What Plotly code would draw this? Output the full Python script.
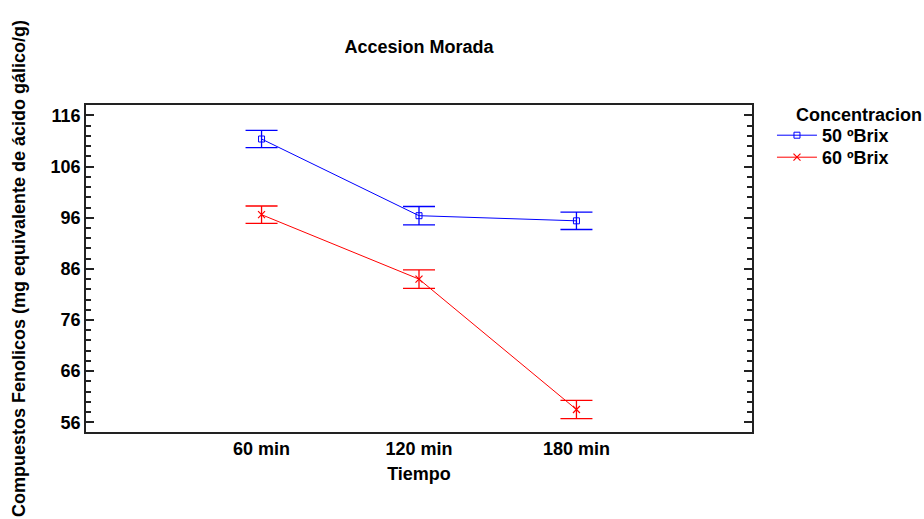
import plotly.graph_objects as go

# Mean phenolic content per drying time, with interval half-widths
tiempos = ["60 min", "120 min", "180 min"]
posiciones = [1, 2, 3]

brix50_media = [111.4, 96.4, 95.4]
brix50_error = [1.7, 1.8, 1.7]

brix60_media = [96.6, 84.0, 58.5]
brix60_error = [1.7, 1.8, 1.8]

y_ticks = [56, 66, 76, 86, 96, 106, 116]

FONT = "Liberation Sans, Arial, sans-serif"
FS = 18
AZUL = "#0000FF"
ROJO = "#FF0000"

# plot area spans 105..432 px vertically
PLOT_TOP, PLOT_H = 105, 327


def paper_y(px):
    return 1 - (px - PLOT_TOP) / PLOT_H


fig = go.Figure()

fig.add_trace(go.Scatter(
    x=posiciones, y=brix50_media, name="<b>50 ºBrix</b>",
    mode="lines+markers", legend="legend",
    line=dict(color=AZUL, width=1),
    marker=dict(symbol="square-open", size=6, color=AZUL, line=dict(width=1, color=AZUL)),
    error_y=dict(type="data", array=brix50_error, visible=True,
                 color=AZUL, thickness=1.3, width=16),
))

fig.add_trace(go.Scatter(
    x=posiciones, y=brix60_media, name="<b>60 ºBrix</b>",
    mode="lines+markers", legend="legend2",
    line=dict(color=ROJO, width=1),
    marker=dict(symbol="x-thin", size=7, color=ROJO, line=dict(width=1.2, color=ROJO)),
    error_y=dict(type="data", array=brix60_error, visible=True,
                 color=ROJO, thickness=1.3, width=16),
))

legend_style = dict(x=1.03, xanchor="left", yanchor="top",
                    bgcolor="rgba(0,0,0,0)", borderwidth=0,
                    font=dict(size=FS, family=FONT, color="black"),
                    itemwidth=40)

fig.update_layout(
    width=924, height=519,
    margin=dict(l=86, r=172, t=105, b=87),
    paper_bgcolor="white", plot_bgcolor="white",
    font=dict(family=FONT, size=FS, color="black"),
    title=dict(text="<b>Accesion Morada</b>", x=0.4535, xanchor="center",
               y=1 - 47 / 519, yanchor="middle", yref="container",
               font=dict(size=FS, family=FONT, color="black")),
    showlegend=True,
    legend=dict(y=paper_y(117), **legend_style),
    legend2=dict(y=paper_y(139), **legend_style),
    annotations=[dict(text="<b>Concentracion</b>", xref="paper", yref="paper",
                      x=1.063, y=paper_y(115), xanchor="left", yanchor="middle",
                      showarrow=False, font=dict(size=FS, family=FONT, color="black"))],
)

fig.update_xaxes(
    range=[-0.115, 4.115],
    tickmode="array", tickvals=posiciones, ticktext=["<b>%s</b>" % t for t in tiempos],
    ticks="", showgrid=False, zeroline=False,
    showline=True, linecolor="#222", linewidth=1.5, mirror=True,
    tickfont=dict(size=FS, family=FONT, color="black"),
    title=dict(text="<b>Tiempo</b>", standoff=9, font=dict(size=FS, family=FONT, color="black")),
)

fig.update_yaxes(
    range=[54.1, 118.05],
    tickmode="array", tickvals=y_ticks, ticktext=["<b>%d</b>" % v for v in y_ticks],
    ticks="inside", ticklen=8, tickwidth=1.5, tickcolor="#222",
    minor=dict(tick0=56, dtick=2, ticks="inside", ticklen=5, tickwidth=1.5, tickcolor="#222"),
    showgrid=False, zeroline=False,
    showline=True, linecolor="#222", linewidth=1.5, mirror="allticks",
    tickfont=dict(size=FS, family=FONT, color="black"),
    title=dict(text="<b>Compuestos Fenolicos (mg equivalente de ácido gálico/g)</b>",
               standoff=20, font=dict(size=FS, family=FONT, color="black")),
)

fig.write_html("out.html")
